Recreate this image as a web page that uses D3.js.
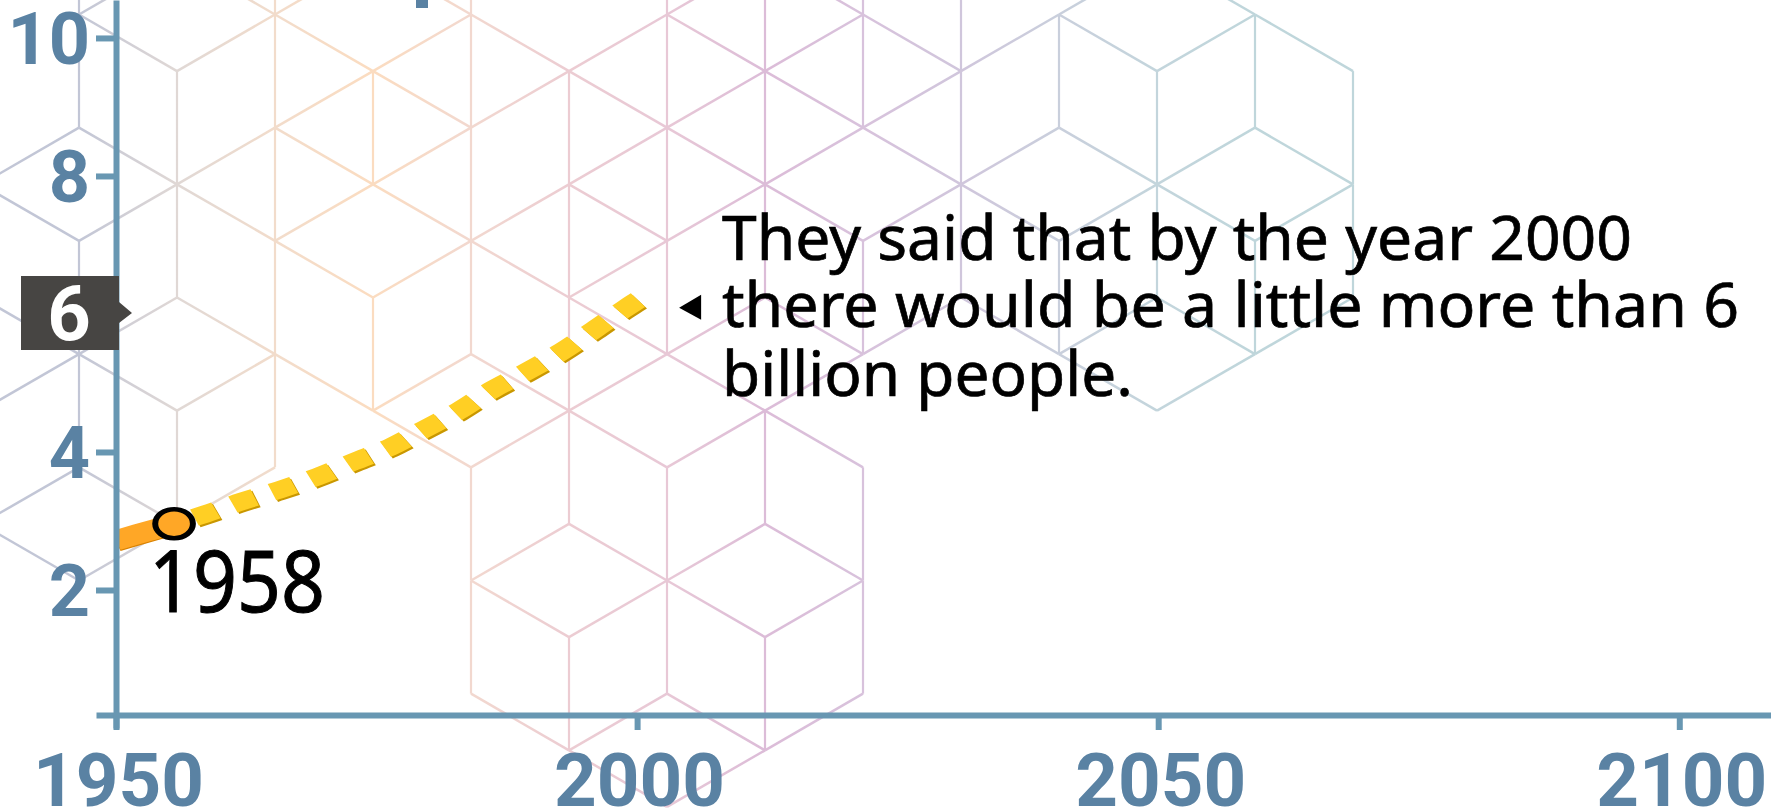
<!DOCTYPE html>
<html><head><meta charset="utf-8">
<style>html,body{margin:0;padding:0;background:#fff}svg{display:block}</style>
<script src="https://cdnjs.cloudflare.com/ajax/libs/d3/7.8.5/d3.min.js"></script>
</head><body><svg id="c" width="1771" height="809"></svg>
<script>
// --- data ---
const xTicks = [1950, 2000, 2050, 2100];
const yTicks = [2, 4, 6, 8, 10];
const pastYears = [1950, 1953.7, 1955.57];
const pastValues = [2.72, 2.88, 2.96];
const forecastYears = [1955.57,1958.54,1962.0,1965.64,1969.29,1972.84,1976.3,1979.46,1982.82,1986.08,1989.35,1992.71,1995.87,1998.94,2000.29];
const forecastValues = [2.96,3.10,3.28,3.45,3.64,3.86,4.07,4.32,4.59,4.90,5.16,5.45,5.77,6.09,6.22];
const markerLabel = "1958";
const highlightTick = 6;
const noteLines = ["They said that by the year 2000", "there would be a little more than 6", "billion people."];
// background cube lattice, as [column, row] lattice indices
const latticeVertical = [[0,-2],[0,0],[0,4],[0,6],[1,1],[1,3],[1,7],[2,-2],[2,0],[2,2],[2,4],[2,6],[3,1],[3,5],[4,-2],[4,0],[4,2],[4,4],[4,8],[4,10],[5,1],[5,3],[5,5],[5,7],[5,11],[6,-2],[6,0],[6,2],[6,4],[6,8],[6,10],[7,-1],[7,1],[7,3],[7,7],[7,11],[8,-2],[8,0],[8,4],[8,8],[8,10],[9,-1],[9,1],[9,3],[10,0],[10,4],[11,1],[11,3],[12,0],[12,4],[13,1],[13,3]];
const latticeDown = [[0,0],[0,2],[-1,3],[0,8],[-1,9],[1,3],[1,5],[-1,5],[0,6],[1,-1],[2,0],[2,2],[2,4],[2,6],[3,-1],[3,1],[3,3],[3,7],[4,0],[4,4],[4,6],[5,1],[5,3],[5,5],[5,7],[5,9],[4,10],[4,12],[5,13],[6,0],[6,2],[6,6],[6,10],[6,12],[7,-1],[7,1],[7,3],[7,5],[7,7],[7,9],[8,0],[8,2],[9,3],[9,5],[10,0],[10,2],[10,6],[11,-1],[11,3],[11,5],[12,0],[12,2]];
const latticeUp = [[0,0],[1,1],[-1,3],[1,3],[0,4],[2,2],[2,4],[0,6],[-1,7],[1,7],[-1,9],[0,10],[1,9],[2,0],[3,1],[3,3],[3,5],[3,7],[4,2],[4,4],[4,8],[4,10],[5,1],[5,3],[5,5],[5,7],[5,11],[5,13],[6,0],[6,2],[6,4],[6,6],[6,8],[6,10],[6,14],[7,1],[7,3],[7,7],[7,11],[7,13],[8,2],[8,4],[8,6],[9,1],[9,3],[10,0],[10,4],[10,6],[11,1],[11,3],[11,7],[12,4],[12,6]];
const latticeColors = ["#c2c6d6","#e0d8d5","#f2dccb","#fbdcc0","#f2d8cf","#ecccd2","#e8c8d6","#dcbcd8","#d8c2dc","#d0c6dc","#c9cfdc","#c3d5dc","#bfd6db","#bfd6db"];

// --- scales ---
const W = 1771, H = 809;
const blue = "#5a82a3", axisBlue = "#6897b2";
const x = d3.scaleLinear().domain([1948.08, 2108.8]).range([96, W]);
const y = d3.scaleLinear().domain([0, 10.55]).range([728, 0]);
const lx = d3.scaleLinear().domain([0, 1]).range([79, 177]);
const ly = d3.scaleLinear().domain([0, 1]).range([14.5, 71.1]);
const svg = d3.select("#c");

// lattice
const defs = svg.append("defs");
const grad = defs.append("linearGradient").attr("id","lat").attr("gradientUnits","userSpaceOnUse")
  .attr("x1",lx(0)).attr("x2",lx(13)).attr("y1",0).attr("y2",0);
latticeColors.forEach((c,i)=>grad.append("stop").attr("offset",i/13).attr("stop-color",c));
defs.append("clipPath").attr("id","plot").append("rect").attr("x",x(1950)).attr("y",0).attr("width",W).attr("height",H);
const edges = [
  ...latticeVertical.map(([i,j])=>[i,j,i,j+2,2.2]),
  ...latticeDown.map(([i,j])=>[i,j,i+1,j+1,2.5]),
  ...latticeUp.map(([i,j])=>[i,j,i+1,j-1,2.5])
];
svg.append("g").selectAll("path").data(edges).join("path")
  .attr("d",d=>`M${lx(d[0])},${ly(d[1])}L${lx(d[2])},${ly(d[3])}`)
  .attr("fill","none").attr("stroke","url(#lat)").attr("stroke-width",d=>d[4]);

// clipped letter fragment at the top of the frame
svg.append("rect").attr("x",416).attr("y",0).attr("width",12).attr("height",8).attr("fill",blue);

// lines: drawn in a horizontally stretched group
const sx = 1.3;
const plot = svg.append("g").attr("clip-path","url(#plot)");
const marks = plot.append("g").attr("transform",`scale(${sx},1)`);
const line = d3.line().x(d=>x(d[0])/sx).y(d=>y(d[1])).curve(d3.curveCatmullRom);
const past = d3.zip(pastYears,pastValues), forecast = d3.zip(forecastYears,forecastValues);
marks.append("path").datum(past).attr("d",line).attr("fill","none").attr("stroke","#d98200").attr("stroke-width",20).attr("transform","translate(0,1.2)");
marks.append("path").datum(past).attr("d",line).attr("fill","none").attr("stroke","#ffa726").attr("stroke-width",20);
[["#c99700",1.4,1.6],["#ffcf24",0,0]].forEach(([c,dx,dy])=>{
  marks.append("path").datum(forecast).attr("d",line).attr("fill","none").attr("stroke",c).attr("stroke-width",17.5)
    .attr("pathLength",13.15).attr("stroke-dasharray","0.56 0.44").attr("stroke-dashoffset",0.48)
    .attr("transform",`translate(${dx},${dy})`);
});

// axes
const gy = svg.append("g").attr("transform",`translate(${x(1950)},0)`)
  .call(d3.axisLeft(y).tickValues(yTicks).tickSize(20).tickSizeOuter(0).tickPadding(6));
const gx = svg.append("g").attr("transform",`translate(0,715)`)
  .call(d3.axisBottom(x).tickValues(xTicks).tickSize(15).tickSizeOuter(0).tickFormat(d3.format("d")));
[gy,gx].forEach(g=>{
  g.selectAll(".domain").attr("stroke",axisBlue).attr("stroke-width",6);
  g.selectAll(".tick line").attr("stroke",axisBlue).attr("stroke-width",6);
  g.selectAll("text").attr("fill",blue).attr("font-family","Roboto").attr("font-weight",700).attr("font-size",74.5);
});
gy.selectAll("text").attr("dy",0).attr("y",26).attr("font-size",72);
gx.selectAll("text").attr("dy",0).attr("y",91).attr("dx",2);

// highlighted y tick badge
const by = y(highlightTick);
svg.append("path").attr("d",`M21,${by-38}H119V${by-12}L132,${by-1}L119,${by+9}V${by+36}H21Z`).attr("fill","#474543");
svg.append("text").attr("x",69).attr("y",by+26).attr("text-anchor","middle").attr("fill","#fff")
  .attr("font-family","Roboto").attr("font-weight",700).attr("font-size",76).text(highlightTick);

// marker on the line
marks.append("circle").attr("cx",x(pastYears[2])/sx).attr("cy",y(pastValues[2])).attr("r",14.5)
  .attr("fill","#ffa726").attr("stroke","#000").attr("stroke-width",4.6);
const font = "'Noto Sans'";
svg.append("text").attr("x",149).attr("y",612).attr("font-family",font).attr("font-size",85).attr("stroke","#000").attr("stroke-width",1)
  .attr("textLength",176).attr("lengthAdjust","spacingAndGlyphs").attr("fill","#000").text(markerLabel);

// note
const tip = [x(2000.29)+39, y(6.09)];
svg.append("path").attr("d",`M${tip[0]},${tip[1]}L${tip[0]+22},${tip[1]-13}V${tip[1]+12}Z`).attr("fill","#000");
const noteBase = [260,327,396], noteEnd = [1632,1739,1133];
noteLines.forEach((t,i)=>svg.append("text").attr("x",722).attr("y",noteBase[i]).attr("font-family",font).attr("font-size",62).attr("stroke","#000").attr("stroke-width",0.7)
  .attr("textLength",noteEnd[i]-722).attr("lengthAdjust","spacingAndGlyphs").attr("fill","#000").text(t));
</script></body></html>
